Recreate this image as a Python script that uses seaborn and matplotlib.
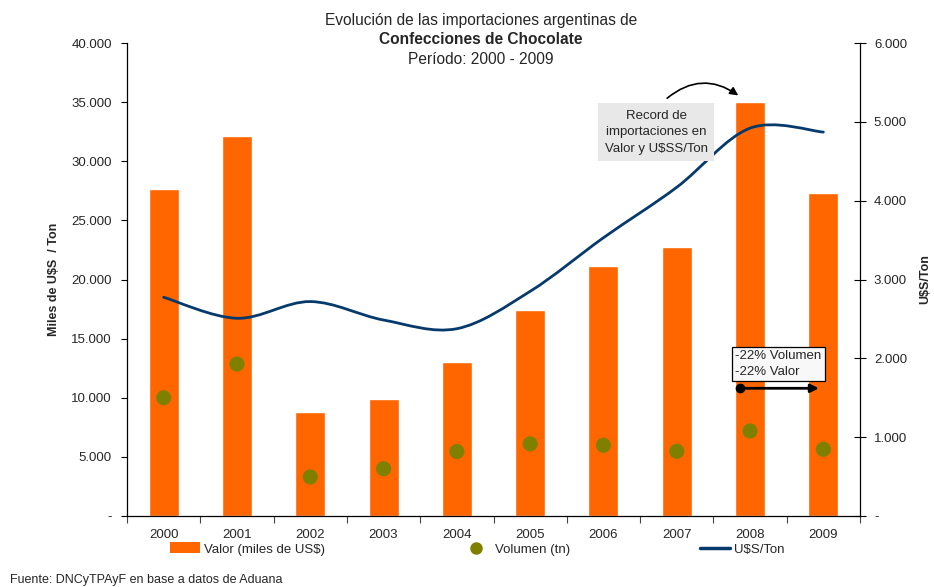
import matplotlib.pyplot as plt
import matplotlib.ticker as mticker
import numpy as np
import pandas as pd
import seaborn as sns
from matplotlib.lines import Line2D
from matplotlib.patches import PathPatch, Patch
from matplotlib.path import Path

years = ["2000", "2001", "2002", "2003", "2004", "2005", "2006", "2007", "2008", "2009"]
valor = [27650, 32100, 8800, 9900, 13000, 17400, 21100, 22750, 35000, 27300]
volumen = [10000, 12850, 3300, 4000, 5450, 6100, 5980, 5470, 7190, 5640]
precio = [2775, 2508, 2720, 2486, 2376, 2850, 3530, 4170, 4920, 4870]

BAR = "#FF6600"
DOT = "#808000"
LINE = "#063A6C"


def thousands(v, _pos):
    if abs(v) < 1e-9:
        return "-"
    return f"{v:,.0f}".replace(",", ".")


def smooth_path(xs, ys):
    # Excel-like smoothed line: cubic Bezier through each point
    pts = np.column_stack([xs, ys]).astype(float)
    n = len(pts)
    verts = [pts[0]]
    codes = [Path.MOVETO]
    for i in range(n - 1):
        p0 = pts[max(i - 1, 0)]
        p1 = pts[i]
        p2 = pts[i + 1]
        p3 = pts[min(i + 2, n - 1)]
        verts += [p1 + (p2 - p0) / 6, p2 - (p3 - p1) / 6, p2]
        codes += [Path.CURVE4] * 3
    return Path(verts, codes)


def main() -> None:
    sns.set_theme(style="white")
    plt.rcParams["font.family"] = ["Liberation Sans", "DejaVu Sans"]

    df = pd.DataFrame({"year": years, "valor": valor,
                       "volumen": volumen, "precio": precio})
    df["pos"] = np.arange(len(df))

    fig = plt.figure(figsize=(9.34, 5.87), dpi=100)
    ax = fig.add_axes([127 / 934, 1 - 516 / 587, 733 / 934, 473 / 587])

    sns.barplot(data=df, x="year", y="valor", color=BAR, width=0.41,
                saturation=1, ax=ax, zorder=2)
    sns.scatterplot(data=df, x="pos", y="volumen", color=DOT, s=120,
                    edgecolor="none", ax=ax, zorder=3)

    ax.set_xlim(-0.5, 9.5)
    ax.set_ylim(0, 40000)
    ax.yaxis.set_major_locator(mticker.MultipleLocator(5000))
    ax.yaxis.set_major_formatter(mticker.FuncFormatter(thousands))
    ax.set_xticks(np.arange(-0.5, 10, 1))
    ax.set_xticklabels([])
    ax.set_xticks(np.arange(10), minor=True)
    ax.set_xticklabels(years, minor=True)
    ax.tick_params(axis="x", which="major", direction="out", length=5,
                   width=0.8, color="#444444", bottom=True)
    ax.tick_params(axis="x", which="minor", length=0, pad=9, labelsize=9.5)
    ax.tick_params(axis="y", direction="out", length=4, width=0.8,
                   left=True, labelsize=9.5, pad=7, color="black")
    ax.set_xlabel("")
    ax.set_ylabel("Miles de U$S  / Ton", fontsize=9, fontweight="bold",
                  labelpad=8)
    for side in ("top", "right"):
        ax.spines[side].set_visible(False)
    for side in ("left", "bottom"):
        ax.spines[side].set_color("black")
        ax.spines[side].set_linewidth(0.9)

    ax2 = ax.twinx()
    ax2.set_ylim(0, 6000)
    ax2.yaxis.set_major_locator(mticker.MultipleLocator(1000))
    ax2.yaxis.set_major_formatter(mticker.FuncFormatter(thousands))
    ax2.tick_params(axis="y", direction="inout", length=8, width=0.8,
                    right=True, labelsize=9.5, pad=6, color="black")
    ax2.set_ylabel("U$S/Ton", fontsize=9, fontweight="bold", labelpad=9)
    for side in ("top", "left", "bottom"):
        ax2.spines[side].set_visible(False)
    ax2.spines["right"].set_color("black")
    ax2.spines["right"].set_linewidth(0.9)

    ax2.add_patch(PathPatch(smooth_path(df["pos"], df["precio"]),
                            facecolor="none", edgecolor=LINE, lw=2.0,
                            capstyle="round", zorder=3))

    # annotations
    ax2.text(6.72, 32470, "Record de\nimportaciones en\nValor y U$SS/Ton",
             transform=ax.transData, ha="center", va="center", fontsize=9.5,
             linespacing=1.5, zorder=6,
             bbox=dict(boxstyle="square,pad=0.5", facecolor="#E8E8E8",
                       edgecolor="none"))
    ax2.annotate("", xy=(7.87, 35430), xytext=(6.84, 35180),
                 xycoords=ax.transData, textcoords=ax.transData,
                 arrowprops=dict(arrowstyle="-|>", color="black", lw=1.2,
                                 mutation_scale=12,
                                 connectionstyle="arc3,rad=-0.4"),
                 zorder=6)
    ax2.text(7.80, 12850, "-22% Volumen\n-22% Valor",
             transform=ax.transData, ha="left", va="center", fontsize=9.5,
             linespacing=1.45, zorder=6,
             bbox=dict(boxstyle="square,pad=0.25", facecolor="#F8F8F8",
                       edgecolor="black", lw=0.9))
    ax2.annotate("", xy=(8.94, 10800), xytext=(7.86, 10800),
                 xycoords=ax.transData, textcoords=ax.transData,
                 arrowprops=dict(arrowstyle="-|>", color="black", lw=2,
                                 mutation_scale=12, shrinkA=0, shrinkB=0),
                 zorder=6)
    ax2.plot([7.86], [10800 * 0.15], marker="o", ms=6, color="black",
             zorder=7)

    # titles
    fig.text(0.515, 1 - 20 / 587, "Evolución de las importaciones argentinas de",
             ha="center", va="center", fontsize=11.2)
    fig.text(0.515, 1 - 40 / 587, "Confecciones de Chocolate",
             ha="center", va="center", fontsize=11.2, fontweight="bold")
    fig.text(0.515, 1 - 60 / 587, "Período: 2000 - 2009",
             ha="center", va="center", fontsize=11.2)

    # legend below the axis, one entry at a time
    items = [
        (Patch(facecolor=BAR, edgecolor="none"), "Valor (miles de US$)", 170),
        (Line2D([], [], ls="none", marker="o", ms=8, color=DOT),
         "Volumen (tn)", 461),
        (Line2D([], [], color=LINE, lw=2.5), "U$S/Ton", 700),
    ]
    for handle, label, x0 in items:
        fig.legend([handle], [label], loc="center left",
                   bbox_to_anchor=(x0 / 934, 1 - 549 / 587), frameon=False,
                   fontsize=9.5, handlelength=2.3, handletextpad=0.3,
                   handleheight=0.9, borderpad=0, borderaxespad=0)

    fig.text(10 / 934, 1 - 580 / 587,
             "Fuente: DNCyTPAyF en base a datos de Aduana",
             ha="left", va="center", fontsize=9)

    fig.savefig("out.png", dpi=100)
    plt.close(fig)


if __name__ == "__main__":
    main()
